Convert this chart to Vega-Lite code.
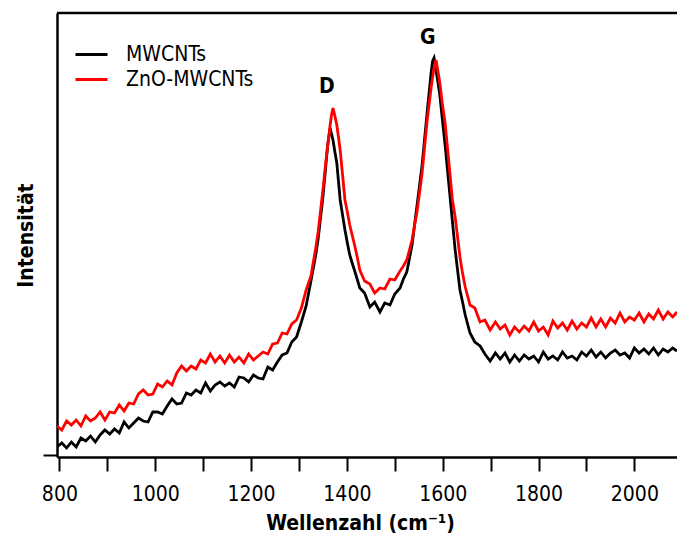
{
  "$schema": "https://vega.github.io/schema/vega-lite/v6.json",
  "width": 620,
  "height": 444,
  "autosize": {"type": "none"},
  "padding": {"left": 57, "top": 13, "right": 0, "bottom": 77},
  "background": "white",
  "config": {
    "view": {"stroke": null},
    "font": "DejaVu Sans Condensed, Liberation Sans, sans-serif"
  },
  "layer": [
    {
      "data": {"values": [
        {"w":795,"MWCNTs":10,"ZnO-MWCNTs":31},{"w":805,"MWCNTs":14,"ZnO-MWCNTs":27},{"w":815,"MWCNTs":9,"ZnO-MWCNTs":36},{"w":825,"MWCNTs":15,"ZnO-MWCNTs":32},{"w":835,"MWCNTs":10,"ZnO-MWCNTs":37},{"w":845,"MWCNTs":19,"ZnO-MWCNTs":31},{"w":855,"MWCNTs":16,"ZnO-MWCNTs":41},{"w":865,"MWCNTs":21,"ZnO-MWCNTs":36},{"w":875,"MWCNTs":15,"ZnO-MWCNTs":39},{"w":885,"MWCNTs":22,"ZnO-MWCNTs":45},{"w":895,"MWCNTs":27,"ZnO-MWCNTs":37},{"w":905,"MWCNTs":23,"ZnO-MWCNTs":45},{"w":915,"MWCNTs":28,"ZnO-MWCNTs":44},{"w":925,"MWCNTs":24,"ZnO-MWCNTs":52},{"w":935,"MWCNTs":35,"ZnO-MWCNTs":46},{"w":945,"MWCNTs":29,"ZnO-MWCNTs":54},{"w":955,"MWCNTs":34,"ZnO-MWCNTs":53},{"w":965,"MWCNTs":39,"ZnO-MWCNTs":63},{"w":975,"MWCNTs":36,"ZnO-MWCNTs":67},{"w":985,"MWCNTs":35,"ZnO-MWCNTs":62},{"w":995,"MWCNTs":45,"ZnO-MWCNTs":63},{"w":1005,"MWCNTs":45,"ZnO-MWCNTs":73},{"w":1015,"MWCNTs":43,"ZnO-MWCNTs":70},{"w":1025,"MWCNTs":51,"ZnO-MWCNTs":76},{"w":1035,"MWCNTs":58,"ZnO-MWCNTs":72},{"w":1045,"MWCNTs":53,"ZnO-MWCNTs":84},{"w":1055,"MWCNTs":54,"ZnO-MWCNTs":91},{"w":1065,"MWCNTs":64,"ZnO-MWCNTs":86},{"w":1075,"MWCNTs":62,"ZnO-MWCNTs":91},{"w":1085,"MWCNTs":67,"ZnO-MWCNTs":88},{"w":1095,"MWCNTs":64,"ZnO-MWCNTs":97},{"w":1105,"MWCNTs":74,"ZnO-MWCNTs":94},{"w":1115,"MWCNTs":66,"ZnO-MWCNTs":103},{"w":1125,"MWCNTs":72,"ZnO-MWCNTs":95},{"w":1135,"MWCNTs":75,"ZnO-MWCNTs":101},{"w":1145,"MWCNTs":71,"ZnO-MWCNTs":94},{"w":1155,"MWCNTs":74,"ZnO-MWCNTs":102},{"w":1165,"MWCNTs":70,"ZnO-MWCNTs":95},{"w":1175,"MWCNTs":80,"ZnO-MWCNTs":100},{"w":1185,"MWCNTs":79,"ZnO-MWCNTs":94},{"w":1195,"MWCNTs":75,"ZnO-MWCNTs":103},{"w":1205,"MWCNTs":82,"ZnO-MWCNTs":97},{"w":1215,"MWCNTs":79,"ZnO-MWCNTs":101},{"w":1225,"MWCNTs":78,"ZnO-MWCNTs":105},{"w":1235,"MWCNTs":90,"ZnO-MWCNTs":103},{"w":1245,"MWCNTs":87,"ZnO-MWCNTs":113},{"w":1255,"MWCNTs":95,"ZnO-MWCNTs":114},{"w":1265,"MWCNTs":102,"ZnO-MWCNTs":124},{"w":1275,"MWCNTs":104,"ZnO-MWCNTs":123},{"w":1285,"MWCNTs":115,"ZnO-MWCNTs":133},{"w":1295,"MWCNTs":120,"ZnO-MWCNTs":137},{"w":1305,"MWCNTs":135,"ZnO-MWCNTs":149},{"w":1315,"MWCNTs":151,"ZnO-MWCNTs":167},{"w":1325,"MWCNTs":176,"ZnO-MWCNTs":181},{"w":1335,"MWCNTs":202,"ZnO-MWCNTs":209},{"w":1340,"MWCNTs":218,"ZnO-MWCNTs":225},{"w":1345,"MWCNTs":239,"ZnO-MWCNTs":246},{"w":1350,"MWCNTs":260,"ZnO-MWCNTs":267},{"w":1355,"MWCNTs":286,"ZnO-MWCNTs":290},{"w":1360,"MWCNTs":312,"ZnO-MWCNTs":312},{"w":1363,"MWCNTs":323,"ZnO-MWCNTs":322},{"w":1365,"MWCNTs":329,"ZnO-MWCNTs":332},{"w":1368,"MWCNTs":323,"ZnO-MWCNTs":342},{"w":1371,"MWCNTs":317,"ZnO-MWCNTs":349},{"w":1375,"MWCNTs":305,"ZnO-MWCNTs":341},{"w":1379,"MWCNTs":294,"ZnO-MWCNTs":332},{"w":1383,"MWCNTs":273,"ZnO-MWCNTs":318},{"w":1386,"MWCNTs":257,"ZnO-MWCNTs":307},{"w":1390,"MWCNTs":245,"ZnO-MWCNTs":287},{"w":1396,"MWCNTs":227,"ZnO-MWCNTs":257},{"w":1401,"MWCNTs":214,"ZnO-MWCNTs":245},{"w":1406,"MWCNTs":202,"ZnO-MWCNTs":232},{"w":1411,"MWCNTs":194,"ZnO-MWCNTs":222},{"w":1417,"MWCNTs":185,"ZnO-MWCNTs":210},{"w":1422,"MWCNTs":177,"ZnO-MWCNTs":199},{"w":1427,"MWCNTs":169,"ZnO-MWCNTs":187},{"w":1437,"MWCNTs":164,"ZnO-MWCNTs":176},{"w":1448,"MWCNTs":150,"ZnO-MWCNTs":173},{"w":1458,"MWCNTs":155,"ZnO-MWCNTs":164},{"w":1469,"MWCNTs":145,"ZnO-MWCNTs":169},{"w":1479,"MWCNTs":154,"ZnO-MWCNTs":168},{"w":1490,"MWCNTs":152,"ZnO-MWCNTs":178},{"w":1500,"MWCNTs":163,"ZnO-MWCNTs":177},{"w":1511,"MWCNTs":169,"ZnO-MWCNTs":186},{"w":1518,"MWCNTs":178,"ZnO-MWCNTs":191},{"w":1525,"MWCNTs":185,"ZnO-MWCNTs":197},{"w":1530,"MWCNTs":197,"ZnO-MWCNTs":206},{"w":1536,"MWCNTs":212,"ZnO-MWCNTs":217},{"w":1541,"MWCNTs":231,"ZnO-MWCNTs":231},{"w":1546,"MWCNTs":250,"ZnO-MWCNTs":244},{"w":1551,"MWCNTs":269,"ZnO-MWCNTs":262},{"w":1557,"MWCNTs":292,"ZnO-MWCNTs":284},{"w":1562,"MWCNTs":317,"ZnO-MWCNTs":309},{"w":1567,"MWCNTs":342,"ZnO-MWCNTs":334},{"w":1572,"MWCNTs":366,"ZnO-MWCNTs":354},{"w":1576,"MWCNTs":385,"ZnO-MWCNTs":370},{"w":1579,"MWCNTs":396,"ZnO-MWCNTs":380},{"w":1582,"MWCNTs":399,"ZnO-MWCNTs":389},{"w":1584,"MWCNTs":393,"ZnO-MWCNTs":394},{"w":1586,"MWCNTs":387,"ZnO-MWCNTs":397},{"w":1590,"MWCNTs":375,"ZnO-MWCNTs":386},{"w":1594,"MWCNTs":362,"ZnO-MWCNTs":374},{"w":1599,"MWCNTs":339,"ZnO-MWCNTs":354},{"w":1605,"MWCNTs":312,"ZnO-MWCNTs":334},{"w":1610,"MWCNTs":287,"ZnO-MWCNTs":309},{"w":1615,"MWCNTs":262,"ZnO-MWCNTs":284},{"w":1620,"MWCNTs":237,"ZnO-MWCNTs":258},{"w":1626,"MWCNTs":207,"ZnO-MWCNTs":240},{"w":1631,"MWCNTs":187,"ZnO-MWCNTs":220},{"w":1636,"MWCNTs":167,"ZnO-MWCNTs":200},{"w":1641,"MWCNTs":156,"ZnO-MWCNTs":185},{"w":1647,"MWCNTs":142,"ZnO-MWCNTs":170},{"w":1652,"MWCNTs":133,"ZnO-MWCNTs":161},{"w":1657,"MWCNTs":124,"ZnO-MWCNTs":152},{"w":1667,"MWCNTs":115,"ZnO-MWCNTs":149},{"w":1678,"MWCNTs":111,"ZnO-MWCNTs":135},{"w":1688,"MWCNTs":103,"ZnO-MWCNTs":137},{"w":1699,"MWCNTs":96,"ZnO-MWCNTs":127},{"w":1710,"MWCNTs":104,"ZnO-MWCNTs":135},{"w":1720,"MWCNTs":98,"ZnO-MWCNTs":128},{"w":1730,"MWCNTs":104,"ZnO-MWCNTs":132},{"w":1740,"MWCNTs":95,"ZnO-MWCNTs":122},{"w":1750,"MWCNTs":102,"ZnO-MWCNTs":130},{"w":1760,"MWCNTs":96,"ZnO-MWCNTs":125},{"w":1770,"MWCNTs":102,"ZnO-MWCNTs":131},{"w":1780,"MWCNTs":98,"ZnO-MWCNTs":126},{"w":1790,"MWCNTs":101,"ZnO-MWCNTs":135},{"w":1800,"MWCNTs":95,"ZnO-MWCNTs":126},{"w":1810,"MWCNTs":105,"ZnO-MWCNTs":130},{"w":1820,"MWCNTs":98,"ZnO-MWCNTs":122},{"w":1830,"MWCNTs":101,"ZnO-MWCNTs":136},{"w":1840,"MWCNTs":97,"ZnO-MWCNTs":129},{"w":1850,"MWCNTs":105,"ZnO-MWCNTs":134},{"w":1860,"MWCNTs":99,"ZnO-MWCNTs":127},{"w":1870,"MWCNTs":101,"ZnO-MWCNTs":136},{"w":1880,"MWCNTs":97,"ZnO-MWCNTs":128},{"w":1890,"MWCNTs":105,"ZnO-MWCNTs":134},{"w":1900,"MWCNTs":101,"ZnO-MWCNTs":130},{"w":1910,"MWCNTs":107,"ZnO-MWCNTs":139},{"w":1920,"MWCNTs":100,"ZnO-MWCNTs":130},{"w":1930,"MWCNTs":105,"ZnO-MWCNTs":138},{"w":1940,"MWCNTs":99,"ZnO-MWCNTs":130},{"w":1950,"MWCNTs":104,"ZnO-MWCNTs":139},{"w":1960,"MWCNTs":107,"ZnO-MWCNTs":134},{"w":1970,"MWCNTs":102,"ZnO-MWCNTs":144},{"w":1980,"MWCNTs":104,"ZnO-MWCNTs":135},{"w":1990,"MWCNTs":99,"ZnO-MWCNTs":140},{"w":2000,"MWCNTs":109,"ZnO-MWCNTs":137},{"w":2010,"MWCNTs":104,"ZnO-MWCNTs":144},{"w":2020,"MWCNTs":108,"ZnO-MWCNTs":135},{"w":2030,"MWCNTs":103,"ZnO-MWCNTs":143},{"w":2040,"MWCNTs":109,"ZnO-MWCNTs":138},{"w":2050,"MWCNTs":102,"ZnO-MWCNTs":147},{"w":2060,"MWCNTs":108,"ZnO-MWCNTs":138},{"w":2070,"MWCNTs":105,"ZnO-MWCNTs":145},{"w":2080,"MWCNTs":109,"ZnO-MWCNTs":140},{"w":2089,"MWCNTs":106,"ZnO-MWCNTs":145}
      ]},
      "transform": [{"fold": ["MWCNTs", "ZnO-MWCNTs"], "as": ["s", "v"]}],
      "mark": {"type": "line", "strokeWidth": 2.8, "clip": true},
      "encoding": {
        "x": {
          "field": "w", "type": "quantitative",
          "scale": {"domain": [795, 2089], "nice": false, "zero": false},
          "axis": {
            "orient": "bottom",
            "values": [800, 900, 1000, 1100, 1200, 1300, 1400, 1500, 1600, 1700, 1800, 1900, 2000],
            "labelExpr": "datum.value % 200 === 0 ? format(datum.value, 'd') : ''",
            "grid": false,
            "domainColor": "black", "domainWidth": 2.5,
            "tickColor": "black", "tickWidth": 2, "tickSize": 14,
            "labelFontSize": 21, "labelColor": "black", "labelBaseline": "alphabetic", "labelPadding": 29,
            "title": "Wellenzahl (cm⁻¹)",
            "titleFontSize": 21, "titleFontWeight": "bold", "titleColor": "black",
            "titleBaseline": "alphabetic", "titleX": 303, "titleY": 72,
            "encode": {"ticks": {"update": {"y2": {"signal": "datum.value % 200 === 0 ? 14 : 8"}}}}
          }
        },
        "y": {
          "field": "v", "type": "quantitative",
          "scale": {"domain": [0, 444], "nice": false},
          "axis": {
            "values": [2],
            "labels": false,
            "grid": false,
            "domainColor": "black", "domainWidth": 2.5,
            "tickColor": "black", "tickWidth": 2, "tickSize": 14,
            "title": "Intensität",
            "titleFontSize": 21, "titleFontWeight": "bold", "titleColor": "black",
            "titleAngle": 270, "titleBaseline": "alphabetic", "titleX": -25, "titleY": 222
          }
        },
        "color": {
          "field": "s", "type": "nominal",
          "scale": {"domain": ["MWCNTs", "ZnO-MWCNTs"], "range": ["#000000", "#ff0000"]},
          "legend": {
            "orient": "none", "legendX": 24, "legendY": 31,
            "title": null, "padding": 0,
            "symbolType": "M-2,0H2", "symbolSize": 256, "symbolStrokeWidth": 3,
            "labelFontSize": 21, "labelColor": "black", "labelOffset": 24, "rowPadding": 3
          }
        }
      }
    },
    {
      "data": {"values": [{"w": 1358, "v": 370, "t": "D"}, {"w": 1569, "v": 419, "t": "G"}]},
      "mark": {"type": "text", "fontWeight": "bold", "fontSize": 21, "baseline": "middle", "color": "black"},
      "encoding": {
        "x": {"field": "w", "type": "quantitative"},
        "y": {"field": "v", "type": "quantitative"},
        "text": {"field": "t"}
      }
    },
    {
      "data": {"values": [{}]},
      "mark": {"type": "rule", "strokeWidth": 2.5, "color": "black"},
      "encoding": {"y": {"datum": 444}}
    }
  ]
}
